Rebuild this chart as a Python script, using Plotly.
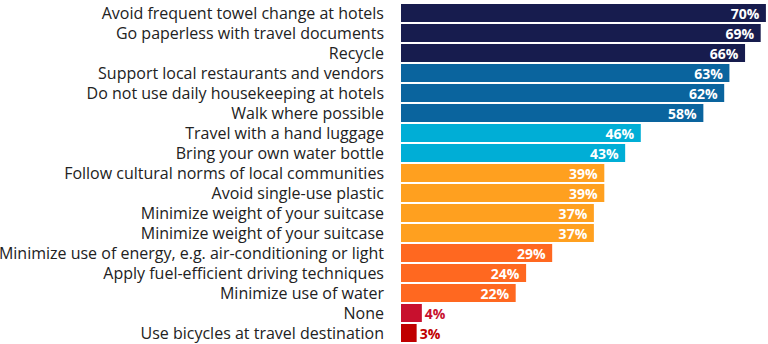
import plotly.graph_objects as go

categories = [
    "Avoid frequent towel change at hotels",
    "Go paperless with travel documents",
    "Recycle",
    "Support local restaurants and vendors",
    "Do not use daily housekeeping at hotels",
    "Walk where possible",
    "Travel with a hand luggage",
    "Bring your own water bottle",
    "Follow cultural norms of local communities",
    "Avoid single-use plastic",
    "Minimize weight of your suitcase",
    "Minimize weight of your suitcase ",
    "Minimize use of energy, e.g. air-conditioning or light",
    "Apply fuel-efficient driving techniques",
    "Minimize use of water",
    "None",
    "Use bicycles at travel destination",
]
values = [70, 69, 66, 63, 62, 58, 46, 43, 39, 39, 37, 37, 29, 24, 22, 4, 3]
colors = (["#171c4e"] * 3 + ["#0a649e"] * 3 + ["#00aed6"] * 2 + ["#ffa01f"] * 4
          + ["#ff6820"] * 3 + ["#c8102e", "#c00000"])

positions = ["inside" if v >= 10 else "outside" for v in values]
text_colors = ["white" if v >= 10 else c for v, c in zip(values, colors)]
labels = [f"{v}%\u00a0" if v >= 10 else f"{v}%" for v in values]

tf = dict(family="Open Sans", size=14, color=text_colors, weight="bold")

fig = go.Figure(go.Bar(
    x=values,
    y=list(range(len(categories))),
    orientation="h",
    marker=dict(color=colors, line=dict(width=0)),
    text=labels,
    textposition=positions,
    insidetextanchor="end",
    textfont=tf,
    outsidetextfont=tf,
    insidetextfont=tf,
    constraintext="none",
    cliponaxis=False,
    hoverinfo="skip",
))

fig.update_layout(
    width=768, height=344,
    margin=dict(l=401, r=0, t=3, b=1),
    paper_bgcolor="white", plot_bgcolor="white",
    bargap=0.1,
    showlegend=False,
    font=dict(family="Open Sans", color="#222222"),
)
fig.update_xaxes(range=[0, 70.4], visible=False, fixedrange=True)
fig.update_yaxes(
    tickmode="array",
    tickvals=list(range(len(categories))),
    ticktext=[c.strip() for c in categories],
    range=[len(categories) - 0.5, -0.5],
    showgrid=False, zeroline=False, showline=False,
    ticks="", ticklabelstandoff=16,
    tickfont=dict(family="Open Sans", size=16, color="#222222"),
)

fig.write_html("out.html")
